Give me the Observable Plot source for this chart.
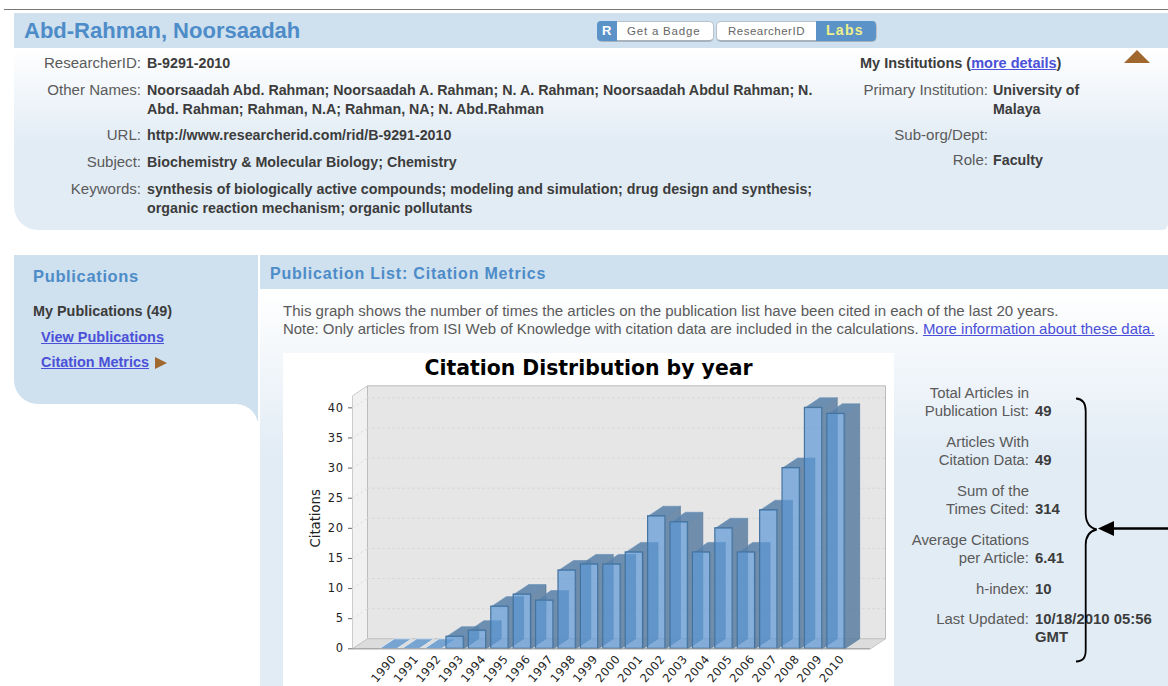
<!DOCTYPE html>
<html><head><meta charset="utf-8">
<script src="https://cdn.jsdelivr.net/npm/d3@7"></script>
<script src="https://cdn.jsdelivr.net/npm/@observablehq/plot@0.6"></script>
<style>
html,body{margin:0;padding:0;background:#fff;width:1168px;height:686px;overflow:hidden}
body{position:relative;font-family:"Liberation Sans",Arial,sans-serif;font-size:15.05px;color:#5a5a5a}
.a{position:absolute}
.t{position:absolute;white-space:nowrap;line-height:18px;height:18px}
.r{text-align:right}
.l{width:140px}
.v{font-weight:bold;color:#3c3c3c;font-size:14.25px}
.s{font-size:14.9px}
.h{font-weight:bold;color:#4d8cc8}
a{color:#4a50d8;text-decoration:underline}
#chart{position:absolute;left:283px;top:353px;width:611px;height:333px;background:#fff;overflow:hidden}
#chart svg{display:block;overflow:visible}
#chart g[aria-label="x-axis tick label"] text,#chart g[aria-label="y-axis tick label"] text{letter-spacing:.5px}
</style></head><body>
<div class="a" style="left:4px;top:9px;width:1164px;height:1px;background:#777"></div>

<div class="a" style="left:14px;top:13px;width:1154px;height:217px;border-radius:0 0 6px 24px;background:linear-gradient(#fff 35px,#e2ecf5 130px)"></div>
<div class="a" style="left:14px;top:13px;width:1154px;height:35px;background:#cfe0ee"></div>
<div class="t h" style="left:24px;top:18px;height:26px;line-height:26px;font-size:22px">Abd-Rahman, Noorsaadah</div>

<div class="a" style="left:597px;top:21px;width:115px;height:18px;border-radius:5px;background:#fff;border:1px solid #b9c2cb;border-bottom:2px solid #a8b2bc;box-sizing:content-box"></div>
<div class="a" style="left:597px;top:21px;width:20px;height:20px;border-radius:4px 0 0 4px;background:#5b93c9"></div>
<div class="t" style="left:602px;top:22px;color:#fff;font-weight:bold;font-size:13px">R</div>
<div class="t" style="left:627px;top:22px;color:#666;font-size:11.5px;letter-spacing:.8px">Get a Badge</div>
<div class="a" style="left:716px;top:21px;width:159px;height:18px;border-radius:5px;background:#fff;border:1px solid #b9c2cb;border-bottom:2px solid #a8b2bc"></div>
<div class="a" style="left:816px;top:21px;width:60px;height:20px;border-radius:0 4px 4px 0;background:#5b93c9"></div>
<div class="t" style="left:728px;top:22px;color:#666;font-size:11.5px;letter-spacing:.5px">ResearcherID</div>
<div class="t" style="left:826px;top:21px;color:#eef08a;font-weight:bold;font-size:14px;letter-spacing:1.3px">Labs</div>

<div class="t r l" style="left:1px;top:54px">ResearcherID:</div><div class="t v" style="left:147px;top:54px">B-9291-2010</div>
<div class="t r l" style="left:1px;top:81px">Other Names:</div>
<div class="t v" style="left:147px;top:81px">Noorsaadah Abd. Rahman; Noorsaadah A. Rahman; N. A. Rahman; Noorsaadah Abdul Rahman; N.</div>
<div class="t v" style="left:147px;top:100px">Abd. Rahman; Rahman, N.A; Rahman, NA; N. Abd.Rahman</div>
<div class="t r l" style="left:1px;top:126px">URL:</div><div class="t v" style="left:147px;top:126px">http://www.researcherid.com/rid/B-9291-2010</div>
<div class="t r l" style="left:1px;top:153px">Subject:</div><div class="t v" style="left:147px;top:153px">Biochemistry &amp; Molecular Biology; Chemistry</div>
<div class="t r l" style="left:1px;top:180px">Keywords:</div>
<div class="t v" style="left:147px;top:180px">synthesis of biologically active compounds; modeling and simulation; drug design and synthesis;</div>
<div class="t v" style="left:147px;top:199px">organic reaction mechanism; organic pollutants</div>

<div class="t v" style="left:860px;top:54px;font-size:14.5px">My Institutions (<a>more details</a>)</div>
<div class="t r l" style="left:848px;top:81px">Primary Institution:</div>
<div class="t v" style="left:993px;top:81px">University of</div><div class="t v" style="left:993px;top:100px">Malaya</div>
<div class="t r l" style="left:848px;top:126px">Sub-org/Dept:</div>
<div class="t r l" style="left:848px;top:151px">Role:</div><div class="t v" style="left:993px;top:151px">Faculty</div>

<div class="a" style="left:14px;top:255px;width:244px;height:149px;background:#cfe0ee;border-radius:0 0 0 24px"></div>
<div class="a" style="left:220px;top:395px;width:38px;height:26px;background:#cfe0ee"></div>
<div class="a" style="left:190px;top:404px;width:68px;height:30px;background:#fff;border-radius:0 22px 0 0"></div>
<div class="t h" style="left:33px;top:267px;font-size:16.5px;letter-spacing:.65px">Publications</div>
<div class="t v" style="left:33px;top:302px;font-size:14.4px">My Publications (49)</div>
<div class="t" style="left:41px;top:328px;font-weight:bold;font-size:14.5px"><a>View Publications</a></div>
<div class="t" style="left:41px;top:353px;font-weight:bold;font-size:14.4px"><a>Citation Metrics</a></div>

<div class="a" style="left:260px;top:255px;width:908px;height:431px;background:linear-gradient(#fff 34px,#e2ecf5 200px)"></div>
<div class="a" style="left:260px;top:255px;width:908px;height:34px;background:#cfe0ee"></div>
<div class="t h" style="left:270px;top:265px;font-size:16px;letter-spacing:.8px">Publication List: Citation Metrics</div>
<div class="t" style="left:283px;top:302px">This graph shows the number of times the articles on the publication list have been cited in each of the last 20 years.</div>
<div class="t" style="left:283px;top:320px;font-size:14.95px">Note: Only articles from ISI Web of Knowledge with citation data are included in the calculations. <a>More information about these data.</a></div>

<div id="chart"></div>
<div class="t" id="ctitle" style="left:283px;width:611px;top:354px;height:28px;line-height:28px;text-align:center;font-family:'DejaVu Sans';font-weight:bold;font-size:20.4px;color:#000">Citation Distribution by year</div>

<div class="t r l s" style="left:889px;top:384px">Total Articles in</div>
<div class="t r l s" style="left:889px;top:402px">Publication List:</div><div class="t v s" style="left:1035px;top:402px">49</div>
<div class="t r l s" style="left:889px;top:433px">Articles With</div>
<div class="t r l s" style="left:889px;top:451px">Citation Data:</div><div class="t v s" style="left:1035px;top:451px">49</div>
<div class="t r l s" style="left:889px;top:482px">Sum of the</div>
<div class="t r l s" style="left:889px;top:500px">Times Cited:</div><div class="t v s" style="left:1035px;top:500px">314</div>
<div class="t r l s" style="left:889px;top:531px">Average Citations</div>
<div class="t r l s" style="left:889px;top:549px">per Article:</div><div class="t v s" style="left:1035px;top:549px">6.41</div>
<div class="t r l s" style="left:889px;top:580px">h-index:</div><div class="t v s" style="left:1035px;top:580px">10</div>
<div class="t r l s" style="left:889px;top:610px">Last Updated:</div><div class="t v s" style="left:1035px;top:610px">10/18/2010 05:56</div>
<div class="t v s" style="left:1035px;top:628px">GMT</div>

<svg class="a" style="left:0;top:0" width="1168" height="686" viewBox="0 0 1168 686">
<path d="M1124 63L1137 50L1150 63Z" fill="#a0672f"/>
<path d="M155 357L167 363L155 369Z" fill="#a0672f"/>
<path d="M1076 398.5C1083 399 1085.7 403 1085.7 411L1085.7 513C1085.7 523 1090 528 1096.7 529.5C1090 531 1085.7 536 1085.7 545L1085.7 650C1085.7 658 1083 661 1076 661.5" fill="none" stroke="#000" stroke-width="1.8"/>
<path d="M1168 528.5L1112 528.5" stroke="#000" stroke-width="2.5"/>
<path d="M1098 528.5L1114 521L1114 536Z" fill="#000"/>
</svg>

<script>
const years = [1990,1991,1992,1993,1994,1995,1996,1997,1998,1999,2000,2001,2002,2003,2004,2005,2006,2007,2008,2009,2010];
const citations = [0,0,0,2,3,7,9,8,13,14,14,16,22,21,16,20,16,23,30,40,39];
const yTicks = [0,5,10,15,20,25,30,35,40];

const xDomain = [1988.42, 2011.54], yMax = 42;
const depthX = 0.67, depthY = 1.66, half = 0.386;
const [xa, xb] = xDomain;

const bars = years.map((year, i) => ({year, value: citations[i]}));
const poly = (id, pts) => [...pts, pts[0]].map(([x, y]) => ({id, x, y}));
const topFace = b => poly(b.year, [[b.year-half,b.value],[b.year+half,b.value],[b.year+half+depthX,b.value+depthY],[b.year-half+depthX,b.value+depthY]]);

const backWall = poly("back", [[xa+depthX,depthY],[xb+depthX,depthY],[xb+depthX,yMax+depthY],[xa+depthX,yMax+depthY]]);
const leftWall = poly("left", [[xa,0],[xa+depthX,depthY],[xa+depthX,yMax+depthY],[xa,yMax]]);
const floor = poly("floor", [[xa,0],[xa+depthX,depthY],[xb+depthX,depthY],[xb,0]]);
const gridBack = yTicks.filter(d => d > 0).flatMap(v => [{id:v,x:xa+depthX,y:v+depthY},{id:v,x:xb+depthX,y:v+depthY}]);
const gridLeft = yTicks.filter(d => d > 0).flatMap(v => [{id:v,x:xa,y:v},{id:v,x:xa+depthX,y:v+depthY}]);
const sides = bars.filter(b => b.value > 0).flatMap(b => poly(b.year, [[b.year+half,0],[b.year+half+depthX,depthY],[b.year+half+depthX,b.value+depthY],[b.year+half,b.value]]));
const tops = bars.filter(b => b.value > 0).flatMap(topFace);
const flatTops = bars.filter(b => b.value === 0).flatMap(topFace);
const line = (data, o) => Plot.line(data, {x:"x", y:"y", z:"id", curve:"linear", ...o});

const chart = Plot.plot({
  width: 611, height: 333,
  marginLeft: 69, marginRight: 24, marginTop: 42.3, marginBottom: 37.7,
  style: {fontFamily: "'DejaVu Sans'", fontSize: "11px", background: "transparent", color: "#222"},
  x: {type: "linear", domain: xDomain},
  y: {domain: [0, yMax]},
  marks: [
    line(leftWall, {fill:"#f1f1f1", stroke:"#cccccc", strokeWidth:1}),
    line(backWall, {fill:"#e6e6e6", stroke:"#bcbcbc", strokeWidth:1}),
    line(floor, {fill:"#dcdcdc", stroke:"#c6c6c6", strokeWidth:1}),
    line(gridBack, {stroke:"#d8d8d8", strokeWidth:1, strokeDasharray:"2,3"}),
    line(gridLeft, {stroke:"#e0e0e0", strokeWidth:1, strokeDasharray:"2,3"}),
    line(sides, {fill:"#56799d", fillOpacity:.82, stroke:"#4f7398", strokeOpacity:.6, strokeWidth:1}),
    line(tops, {fill:"#5a82aa", fillOpacity:.88, stroke:"#6d93b8", strokeOpacity:.7, strokeWidth:1}),
    line(flatTops, {fill:"#78a4d2", stroke:"#eef3f8", strokeOpacity:.7, strokeWidth:1}),
    Plot.rect(bars.filter(b => b.value > 0), {x1: b => b.year-half, x2: b => b.year+half, y1: 0, y2: "value", fill:"#5d99d6", fillOpacity:.7, stroke:"#44739f", strokeWidth:1.2}),
    Plot.ruleY([0], {stroke:"#999", strokeWidth:1}),
    Plot.axisY({ticks: yTicks, tickSize: 4, tickPadding: 5, label: null, fontSize: 11.5, stroke:"#666"}),
    Plot.text(["Citations"], {frameAnchor:"left", textAnchor:"middle", rotate:-90, dx:-37, dy:-4, fontSize:13.2, fill:"#222"}),
    Plot.axisX({ticks: years, tickSize: 0, tickPadding: 8, tickRotate: -50, tickFormat: d => String(d), label: null, fontSize: 11.5, dx: 6})
  ]
});
document.getElementById("chart").appendChild(chart);
</script>
</body></html>
